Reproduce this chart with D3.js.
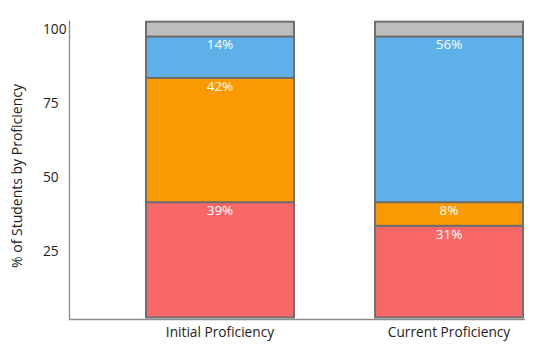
<!DOCTYPE html>
<html>
<head>
<meta charset="utf-8">
<script src="https://cdn.jsdelivr.net/npm/d3@7"></script>
<style>
  html, body { margin: 0; padding: 0; background: #fff; }
  svg { display: block; font-family: "Open Sans", sans-serif; }
</style>
</head>
<body>
<svg id="chart" width="534" height="349"></svg>
<script>
const categories = ["Initial Proficiency", "Current Proficiency"];
const levels = ["red", "orange", "blue", "gray"];
const redValues = [39, 31];
const orangeValues = [42, 8];
const blueValues = [14, 56];
const grayValues = [5, 5];
const labelValues = { red: [39, 31], orange: [42, 8], blue: [14, 56], gray: [null, null] };
const yTicks = [25, 50, 75, 100];
const yTitle = "% of Students by Proficiency";

const colors = { red: "#f76767", orange: "#fa9a00", blue: "#5db1e8", gray: "#bebebe" };

const rows = categories.map((c, i) => ({
  cat: c, red: redValues[i], orange: orangeValues[i], blue: blueValues[i], gray: grayValues[i]
}));

const svg = d3.select("#chart");

const x = d3.scaleBand().domain(categories).range([146, 523]).paddingInner(0.354).paddingOuter(0);
const y = d3.scaleLinear().domain([0, 100]).range([317.5, 21.7]);

const stack = d3.stack().keys(levels);
const series = stack(rows);

const g = svg.append("g");
series.forEach(s => {
  const key = s.key;
  g.selectAll(null).data(s).enter().append("rect")
    .attr("x", d => x(d.data.cat))
    .attr("width", x.bandwidth())
    .attr("y", d => y(d[1]))
    .attr("height", d => y(d[0]) - y(d[1]))
    .attr("fill", colors[key])
    .attr("stroke", "#6e6e6e")
    .attr("stroke-width", 2);
});

series.forEach(s => {
  const key = s.key;
  s.forEach((d, i) => {
    const v = labelValues[key][i];
    if (v == null) return;
    svg.append("text")
      .attr("x", x(d.data.cat) + x.bandwidth() / 2)
      .attr("y", y(d[1]) + 13)
      .attr("text-anchor", "middle")
      .attr("fill", "#fff")
      .attr("font-size", 13.5)
      .attr("font-weight", 500)
      .text(v + "%");
  });
});

// axes lines
svg.append("line").attr("x1", 69.5).attr("x2", 69.5).attr("y1", 20.5).attr("y2", 319.5)
  .attr("stroke", "#8a8a8a").attr("stroke-width", 1.3);
svg.append("line").attr("x1", 69).attr("x2", 525).attr("y1", 319.5).attr("y2", 319.5)
  .attr("stroke", "#8a8a8a").attr("stroke-width", 1.5);

// y axis labels
const yAxis = svg.append("g").attr("transform", "translate(69.5,0)")
  .call(d3.axisLeft(y).tickValues(yTicks).tickSize(0).tickFormat(d3.format("d")));
yAxis.select(".domain").remove();
yAxis.selectAll("text")
  .attr("x", -26.5)
  .attr("dy", null)
  .attr("y", 12)
  .attr("text-anchor", "start")
  .attr("fill", "#222")
  .attr("font-size", 13.7)
  .attr("font-family", "Open Sans, sans-serif");

// x axis labels
const xAxis = svg.append("g").attr("transform", "translate(0,319.5)")
  .call(d3.axisBottom(x).tickSize(0));
xAxis.select(".domain").remove();
xAxis.selectAll("text")
  .attr("dy", null)
  .attr("y", 17.5)
  .attr("fill", "#222")
  .attr("font-size", 13.7)
  .attr("font-family", "Open Sans, sans-serif");

// y title
svg.append("text")
  .attr("transform", "translate(22,176) rotate(-90)")
  .attr("text-anchor", "middle")
  .attr("fill", "#222")
  .attr("font-size", 14)
  .text(yTitle);
</script>
</body>
</html>
